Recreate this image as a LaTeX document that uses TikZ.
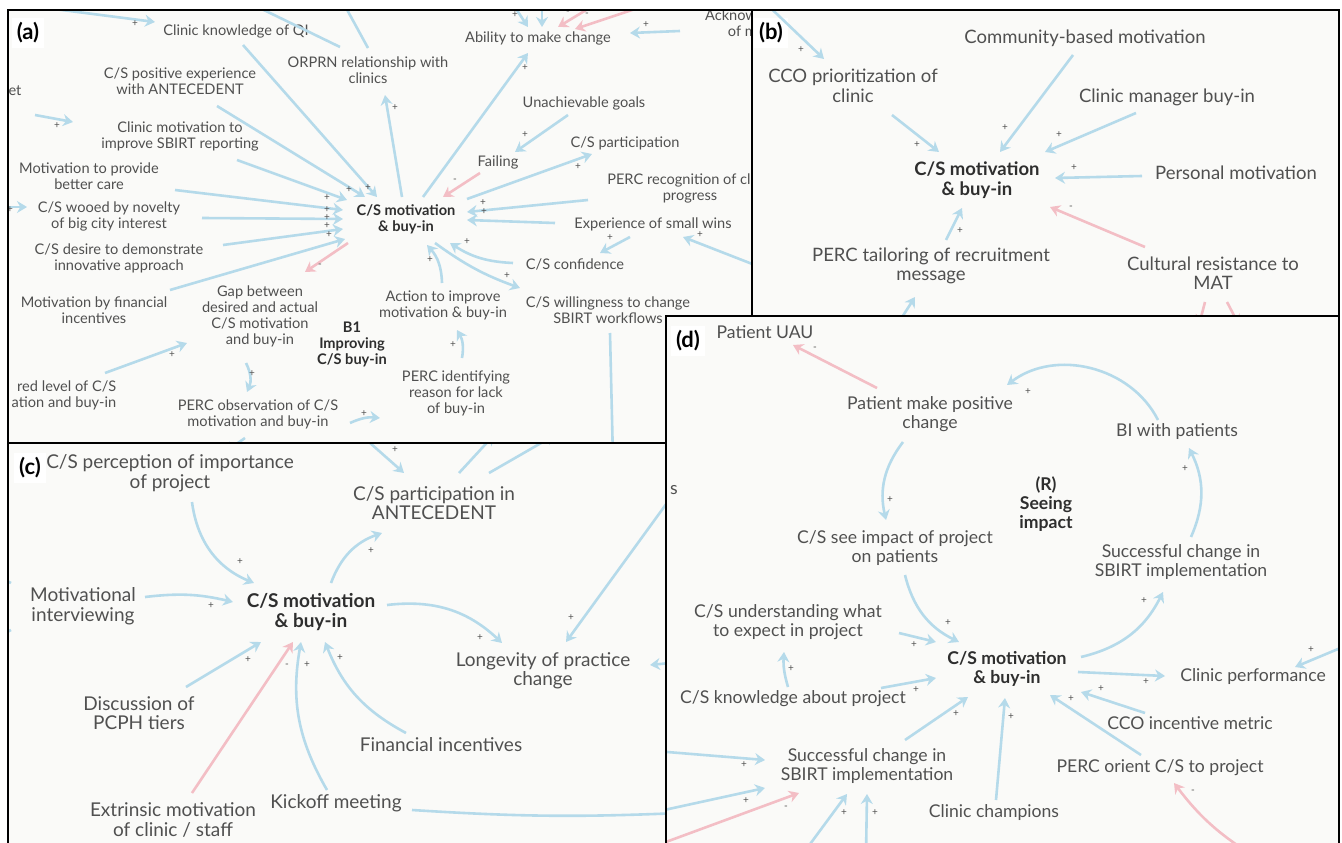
\documentclass[tikz,border=0pt]{standalone}
\usepackage{fontspec}
\setmainfont{Lato}
\usetikzlibrary{arrows.meta,calc}
\definecolor{linkblue}{HTML}{B5DAEA}
\definecolor{linkpink}{HTML}{F3BEC5}
\definecolor{txtgray}{HTML}{505050}
\definecolor{txtdark}{HTML}{2E2E2E}
\definecolor{panebg}{HTML}{FAFAF8}

\begin{document}
\begin{tikzpicture}[x=1pt,y=-1pt,
    vtext/.style={text=txtgray,align=center,inner sep=1pt},
    fa/.style={vtext,font=\fontsize{14.6}{16}\selectfont},
    fab/.style={vtext,text=txtdark,font=\fontsize{14.6}{16}\selectfont\bfseries},
    fb/.style={vtext,font=\fontsize{18.5}{19.5}\selectfont},
    fbb/.style={vtext,text=txtdark,font=\fontsize{18.5}{19.5}\selectfont\bfseries},
    fc/.style={vtext,font=\fontsize{19}{19.5}\selectfont},
    fcb/.style={vtext,text=txtdark,font=\fontsize{19}{19.5}\selectfont\bfseries},
    fd/.style={vtext,font=\fontsize{17.6}{19}\selectfont},
    fdb/.style={vtext,text=txtdark,font=\fontsize{17.6}{19}\selectfont\bfseries},
    sgn/.style={text=txtgray,inner sep=0pt,font=\fontsize{10}{10}\selectfont},
    tag/.style={fill=white,text=black,inner sep=5pt,font=\fontsize{22}{22}\selectfont\bfseries},
    plink/.style={draw=linkblue,line width=2.6pt,-{Stealth[length=10pt,width=12pt]}},
    nlink/.style={plink,draw=linkpink},
    pane/.style={fill=panebg},
    paneframe/.style={draw=black,line width=2.6pt}]
    \useasboundingbox (0,0) rectangle (1342,843);

    % Panel (a)
    \fill[pane] (8,10) rectangle (752,443);
    \begin{scope}
    \clip (8,10) rectangle (752,443);
    \node[tag] (taga) at (28,33) {(a)};
    \node[fa] (cka) at (236,31) {Clinic knowledge of QI};
    \node[fa] (orp) at (368,70) {ORPRN relationship with\\clinics};
    \node[fa] (abl) at (538,38) {Ability to make change};
    \node[fa,align=right] (ack) at (731,23) {Acknow\\of m};
    \node[fa] (et) at (15,91) {et};
    \node[fa] (cpe) at (180,81) {C/S positive experience\\with ANTECEDENT};
    \node[fa] (cmi) at (180,136) {Clinic motivation to\\improve SBIRT reporting};
    \node[fa] (mbc) at (89,176) {Motivation to provide\\better care};
    \node[fa] (woo) at (109,216) {C/S wooed by novelty\\of big city interest};
    \node[fa] (des) at (119,258) {C/S desire to demonstrate\\innovative approach};
    \node[fa] (mfi) at (94,310) {Motivation by financial\\incentives};
    \node[fa,align=right] (dlv) at (64,395) {red level of C/S\\ation and buy-in};
    \node[fab] (amot) at (406,219) {C/S motivation\\\& buy-in};
    \node[fa] (una) at (584,103) {Unachievable goals};
    \node[fa] (fai) at (498,162) {Failing};
    \node[fa] (par) at (625,143) {C/S participation};
    \node[fa] (prc) at (690,188) {PERC recognition of clinic\\progress};
    \node[fa] (esw) at (653,224) {Experience of small wins};
    \node[fa] (con) at (575,264) {C/S confidence};
    \node[fa] (wil) at (608,310) {C/S willingness to change\\SBIRT workflows};
    \node[fa] (act) at (443,305) {Action to improve\\motivation \& buy-in};
    \node[fa] (gap) at (260,316) {Gap between\\desired and actual\\C/S motivation\\and buy-in};
    \node[fab] (loopa) at (352,344) {B1\\Improving\\C/S buy-in};
    \node[fa] (pid) at (456,393) {PERC identifying\\reason for lack\\of buy-in};
    \node[fa] (pob) at (258,414) {PERC observation of C/S\\motivation and buy-in};
    \coordinate (ain1) at (0,2);
    \coordinate (ain2) at (507,-5);
    \coordinate (ain3) at (542,-5);
    \coordinate (ain4) at (611,-5);
    \coordinate (ain5) at (677,-5);
    \coordinate (ain6) at (760,267);
    \coordinate (ain7) at (-5,207);
    \coordinate (aout1) at (233,-5);
    \coordinate (aout2) at (339,-5);
    \coordinate (aout3) at (613,460);
    \coordinate (aout4) at (225,452);
    \draw[plink] (ain1) -- ($(cka)+(-81,-9)$);
    \draw[plink] ($(cka)+(7,14)$) -- ($(amot)+(-29,-22)$);
    \draw[plink] ($(orp)+(-28,-23)$) -- (aout1);
    \draw[plink] ($(orp)+(0,-22)$) -- (aout2);
    \draw[plink] ($(amot)+(-4,-22)$) -- ($(orp)+(17,25)$);
    \draw[plink] ($(amot)+(17,-22)$) -- ($(abl)+(-10,15)$);
    \draw[plink] (ain2) -- ($(abl)+(-10,-11)$);
    \draw[plink] (ain3) -- ($(abl)+(4,-11)$);
    \draw[nlink] (ain4) -- ($(abl)+(20,-11)$);
    \draw[nlink] (ain5) -- ($(abl)+(37,-9)$);
    \draw[plink] ($(ack)+(-51,8)$) -- ($(abl)+(92,-5)$);
    \draw[plink] ($(una)+(-16,12)$) -- ($(fai)+(17,-10)$);
    \draw[nlink] ($(fai)+(-18,11)$) -- ($(amot)+(37,-22)$);
    \draw[plink] ($(amot)+(61,-20)$) -- ($(par)+(-33,11)$);
    \draw[plink] ($(prc)+(-102,12)$) -- ($(amot)+(61,-7)$);
    \draw[plink] ($(esw)+(-98,-1)$) -- ($(amot)+(61,1)$);
    \draw[plink] (ain6) -- ($(esw)+(30,13)$);
    \draw[plink] ($(esw)+(-23,13)$) -- ($(con)+(25,-11)$);
    \draw[plink] ($(con)+(-62,-1)$) to[bend left=15] ($(amot)+(44,24)$);
    \draw[plink] ($(amot)+(29,24)$) to[bend right=8] ($(wil)+(-88,-22)$);
    \draw[plink] ($(act)+(-1,-22)$) to[bend right=20] ($(amot)+(21,26)$);
    \draw[plink] ($(pid)+(6,-35)$) to[bend right=20] ($(act)+(14,25)$);
    \draw[plink] ($(pob)+(92,9)$) to[bend left=15] ($(pid)+(-76,25)$);
    \draw[plink] ($(gap)+(-14,47)$) to[bend left=25] ($(pob)+(-11,-22)$);
    \draw[nlink] ($(amot)+(-58,24)$) -- ($(gap)+(45,-44)$);
    \draw[plink] ($(cpe)+(37,25)$) -- ($(amot)+(-41,-22)$);
    \draw[plink] ($(cmi)+(57,24)$) -- ($(amot)+(-59,-19)$);
    \draw[plink] ($(mbc)+(86,14)$) -- ($(amot)+(-63,-9)$);
    \draw[plink] ($(woo)+(93,2)$) -- ($(amot)+(-63,0)$);
    \draw[plink] ($(des)+(104,-13)$) -- ($(amot)+(-63,10)$);
    \draw[plink] ($(mfi)+(76,-20)$) -- ($(amot)+(-61,20)$);
    \draw[plink] ($(et)+(20,24)$) -- ($(cmi)+(-107,-14)$);
    \draw[plink] (ain7) -- ($(woo)+(-82,-9)$);
    \draw[plink] ($(dlv)+(41,-22)$) -- ($(gap)+(-73,27)$);
    \draw[plink] ($(wil)+(2,23)$) -- (aout3);
    \draw[plink] ($(pob)+(-13,24)$) -- (aout4);
    \foreach \p [count=\i] in {(135,24),(368,188),(349,190),(327,198),(327,210),
        (327,218),(327,226),(329,235),(395,108),(525,68),(515,15),(646,25),
        (525,135),(578,167),(483,203),(484,212),(700,235),(610,238),(467,242),
        (507,276),(430,260),(453,345),(364,414),(252,374),(57,126),(10,210),(172,355)}
        \node[sgn] (pa\i) at \p {+};
    \foreach \p [count=\i] in {(568,13),(587,15),(455,181),(320,266)}
        \node[sgn] (ma\i) at \p {-};
    \end{scope}
    \draw[paneframe] (8,10) rectangle (752,443);

    % Panel (c)
    \fill[pane] (8,443) rectangle (666,850);
    \begin{scope}
    \clip (8,443) rectangle (666,850);
    \node[tag] (tagc) at (30,468) {(c)};
    \node[fc] (pim) at (170,473) {C/S perception of importance\\of project};
    \node[fc] (pia) at (434,503) {C/S participation in\\ANTECEDENT};
    \node[fc] (mi) at (83,606) {Motivational\\interviewing};
    \node[fcb] (cmot) at (311,612) {C/S motivation\\\& buy-in};
    \node[fc] (lon) at (543,671) {Longevity of practice\\change};
    \node[fc] (dis) at (139,713) {Discussion of\\PCPH tiers};
    \node[fc] (fin) at (441,745) {Financial incentives};
    \node[fc] (ext) at (173,820) {Extrinsic motivation\\of clinic / staff};
    \node[fc] (kic) at (336,803) {Kickoff meeting};
    \coordinate (cin1) at (680,485);
    \coordinate (cin2) at (680,662);
    \coordinate (cin3) at (361,435);
    \coordinate (cout1) at (680,813);
    \coordinate (cout2) at (494,435);
    \coordinate (cout3) at (555,435);
    \coordinate (cout4) at (-10,572);
    \coordinate (cout5) at (-10,641);
    \draw[plink] ($(pim)+(22,29)$) to[bend right=30] ($(cmot)+(-57,-29)$);
    \draw[plink] ($(mi)+(62,-9)$) to[bend left=10] ($(cmot)+(-78,-10)$);
    \draw[plink] ($(cmot)+(20,-29)$) to[bend left=25] ($(pia)+(-52,30)$);
    \draw[plink] ($(cmot)+(76,-7)$) to[bend left=25] ($(lon)+(-41,-28)$);
    \draw[plink] (cin1) -- ($(lon)+(23,-29)$);
    \draw[plink] (cin2) -- ($(lon)+(107,-6)$);
    \draw[plink] ($(dis)+(47,-26)$) -- ($(cmot)+(-50,30)$);
    \draw[nlink] ($(ext)+(19,-27)$) -- ($(cmot)+(-18,30)$);
    \draw[plink] ($(kic)+(-9,-13)$) to[bend left=20] ($(cmot)+(-10,30)$);
    \draw[plink] ($(fin)+(-35,-12)$) to[bend left=20] ($(cmot)+(14,30)$);
    \draw[plink] ($(kic)+(76,7)$) to[bend right=3] (cout1);
    \draw[plink] (cin3) -- ($(pia)+(-30,-30)$);
    \draw[plink] ($(pia)+(25,-30)$) -- (cout2);
    \draw[plink] ($(pia)+(55,-30)$) -- (cout3);
    \draw[plink] ($(mi)+(-72,-23)$) -- (cout4);
    \draw[plink] ($(mi)+(-72,24)$) -- (cout5);
    \foreach \p [count=\i] in {(240,562),(211,606),(371,551),(480,638),(571,618),
        (248,660),(307,665),(340,658),(395,450)}
        \node[sgn] (pc\i) at \p {+};
    \node[sgn] (mc1) at (287,666) {-};
    \end{scope}
    \draw[paneframe] (8,443) rectangle (666,850);

    % Panel (b)
    \fill[pane] (752,10) rectangle (1339,316);
    \begin{scope}
    \clip (752,10) rectangle (1339,316);
    \node[tag] (tagb) at (771,33) {(b)};
    \node[fb] (cco) at (853,86) {CCO prioritization of\\clinic};
    \node[fb] (cbm) at (1085,38) {Community-based motivation};
    \node[fb] (cmb) at (1167,97) {Clinic manager buy-in};
    \node[fbb] (bmot) at (977,180) {C/S motivation\\\& buy-in};
    \node[fb] (per) at (1236,173) {Personal motivation};
    \node[fb] (ptr) at (931,266) {PERC tailoring of recruitment\\message};
    \node[fb] (cul) at (1213,273) {Cultural resistance to\\MAT};
    \coordinate (bin1) at (757,-5);
    \coordinate (bin2) at (897,325);
    \coordinate (bout1) at (1199,325);
    \coordinate (bout2) at (1239,325);
    \draw[plink] (bin1) -- ($(cco)+(-29,-27)$);
    \draw[plink] ($(cco)+(39,29)$) -- ($(bmot)+(-38,-28)$);
    \draw[plink] ($(cbm)+(-12,17)$) -- ($(bmot)+(23,-28)$);
    \draw[plink] ($(cmb)+(-31,16)$) -- ($(bmot)+(68,-28)$);
    \draw[plink] ($(per)+(-94,3)$) -- ($(bmot)+(78,-2)$);
    \draw[nlink] ($(cul)+(-68,-26)$) -- ($(bmot)+(73,27)$);
    \draw[plink] ($(ptr)+(15,-26)$) -- ($(bmot)+(-15,28)$);
    \draw[plink] (bin2) -- ($(ptr)+(-16,31)$);
    \draw[nlink] ($(cul)+(-8,29)$) -- (bout1);
    \draw[nlink] ($(cul)+(14,29)$) -- (bout2);
    \foreach \p [count=\i] in {(801,50),(917,145),(1005,128),(1059,135),(1074,168),(960,231)}
        \node[sgn] (pb\i) at \p {+};
    \node[sgn] (mb1) at (1071,208) {-};
    \end{scope}
    \draw[paneframe] (752,10) rectangle (1339,316);

    % Panel (d)
    \fill[pane] (666,316) rectangle (1339,850);
    \begin{scope}
    \clip (666,316) rectangle (1339,850);
    \node[tag] (tagd) at (688,341) {(d)};
    \node[fd] (uau) at (765,332) {Patient UAU};
    \node[fd] (pmp) at (930,414) {Patient make positive\\change};
    \node[fd] (bip) at (1177,432) {BI with patients};
    \node[fdb] (loopd) at (1046,504) {(R)\\Seeing\\impact};
    \node[fd] (csi) at (895,548) {C/S see impact of project\\on patients};
    \node[fd] (sct) at (1181,562) {Successful change in\\SBIRT implementation};
    \node[fd] (und) at (788,622) {C/S understanding what\\to expect in project};
    \node[fdb] (dmot) at (1007,669) {C/S motivation\\\& buy-in};
    \node[fd] (cpf) at (1253,677) {Clinic performance};
    \node[fd] (kno) at (793,699) {C/S knowledge about project};
    \node[fd] (cim) at (1190,723) {CCO incentive metric};
    \node[fd] (scb) at (867,766) {Successful change in\\SBIRT implementation};
    \node[fd] (por) at (1160,768) {PERC orient C/S to project};
    \node[fd] (chp) at (994,813) {Clinic champions};
    \node[fd,anchor=west] (dsx) at (669,490) {s};
    \coordinate (din1) at (1350,644);
    \coordinate (din2) at (1252,855);
    \coordinate (din3) at (655,751);
    \coordinate (din4) at (655,812);
    \coordinate (din5) at (655,846);
    \coordinate (din6) at (802,855);
    \coordinate (din7) at (866,855);
    \draw[nlink] ($(pmp)+(-53,-26)$) -- ($(uau)+(28,13)$);
    \draw[plink] ($(bip)+(-19,-12)$) to[bend right=50] ($(pmp)+(77,-29)$);
    \draw[plink] ($(sct)+(10,-25)$) to[bend right=25] ($(bip)+(12,16)$);
    \draw[plink] ($(pmp)+(-27,28)$) to[bend right=25] ($(csi)+(-9,-28)$);
    \draw[plink] ($(csi)+(10,27)$) to[bend right=25] ($(dmot)+(-48,-27)$);
    \draw[plink] ($(und)+(111,11)$) -- ($(dmot)+(-71,-27)$);
    \draw[plink] ($(kno)+(-5,-12)$) to[bend left=10] ($(und)+(-4,30)$);
    \draw[plink] ($(kno)+(88,-11)$) -- ($(dmot)+(-71,9)$);
    \draw[plink] ($(scb)+(38,-26)$) -- ($(dmot)+(-39,28)$);
    \draw[plink] ($(chp)+(2,-13)$) -- ($(dmot)+(-2,29)$);
    \draw[plink] ($(por)+(-19,-13)$) -- ($(dmot)+(43,26)$);
    \draw[plink] ($(cim)+(-45,-10)$) -- ($(dmot)+(74,23)$);
    \draw[plink] ($(dmot)+(71,3)$) -- ($(cpf)+(-88,-1)$);
    \draw[plink] ($(dmot)+(74,-12)$) to[bend right=25] ($(sct)+(-18,30)$);
    \draw[plink] (din1) -- ($(cpf)+(42,-10)$);
    \draw[nlink] (din2) to[bend left=10] ($(por)+(14,15)$);
    \draw[plink] (din3) -- ($(scb)+(-102,-6)$);
    \draw[plink] (din4) -- ($(scb)+(-102,22)$);
    \draw[nlink] (din5) -- ($(scb)+(-68,27)$);
    \draw[plink] (din6) -- ($(scb)+(-20,28)$);
    \draw[plink] (din7) -- ($(scb)+(0,28)$);
    \foreach \p [count=\i] in {(1028,392),(1185,469),(890,500),(948,623),(914,645),
        (791,669),(916,690),(956,714),(1011,717),(1071,699),(1101,689),(1146,682),
        (1144,601),(1311,650),(744,765),(746,801),(844,813),(875,813)}
        \node[sgn] (pd\i) at \p {+};
    \foreach \p [count=\i] in {(815,349),(1193,792),(786,808)}
        \node[sgn] (md\i) at \p {-};
    \end{scope}
    \draw[paneframe] (666,316) rectangle (1339,850);
\end{tikzpicture}
\end{document}
